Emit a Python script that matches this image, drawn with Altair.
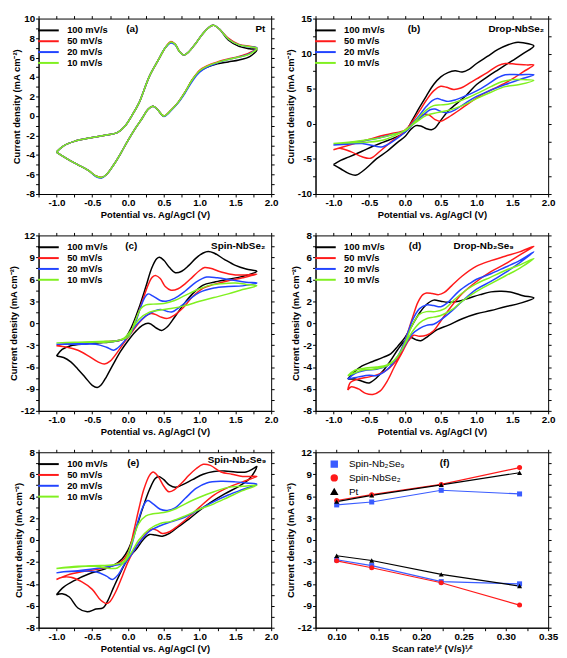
import altair as alt
import pandas as pd

FONT = "Liberation Sans"
SERIES = ["100 mV/s", "50 mV/s", "20 mV/s", "10 mV/s"]
COLORS = ["#000000", "#ff1a1a", "#2244ff", "#80f020"]
Y_TITLE = "Current density (mA cm\u207b\u00b2)"
X_TITLE = "Potential vs. Ag/AgCl (V)"

X_TICKS = [-1.25, -1.0, -0.75, -0.5, -0.25, 0.0, 0.25, 0.5, 0.75, 1.0, 1.25, 1.5, 1.75, 2.0]
YA_TICKS = [-8, -7, -6, -5, -4, -3, -2, -1, 0, 1, 2, 3, 4, 5, 6, 7, 8, 9, 10]
YB_TICKS = [-10, -7.5, -5, -2.5, 0, 2.5, 5, 7.5, 10, 12.5, 15]
YC_TICKS = [-12, -10.5, -9, -7.5, -6, -4.5, -3, -1.5, 0, 1.5, 3, 4.5, 6, 7.5, 9, 10.5, 12]
YD_TICKS = [-8, -7, -6, -5, -4, -3, -2, -1, 0, 1, 2, 3, 4, 5, 6, 7, 8]
XF_TICKS = [0.075, 0.1, 0.125, 0.15, 0.175, 0.2, 0.225, 0.25, 0.275, 0.3, 0.325, 0.35]

# ---------------- (a) Pt ----------------
A_X = [-1.0, -0.9, -0.75, -0.5, -0.3, -0.15, -0.05, 0.05, 0.15, 0.3, 0.42, 0.52, 0.6, 0.66, 0.72, 0.78, 0.85, 0.95, 1.05, 1.15, 1.2, 1.28, 1.4, 1.55, 1.7, 1.8,
       1.7, 1.55, 1.4, 1.25, 1.1, 1.0, 0.9, 0.8, 0.7, 0.6, 0.5, 0.42, 0.35, 0.28, 0.2, 0.1, 0.0, -0.1, -0.2, -0.3, -0.37, -0.45, -0.55, -0.7, -0.85, -1.0]
A_100 = [-3.7, -3.05, -2.6, -2.2, -1.95, -1.7, -1.1, 0.0, 1.3, 4.1, 5.7, 7.0, 7.6, 7.35, 6.6, 6.25, 6.6, 7.5, 8.5, 9.2, 9.3, 8.9, 7.8, 7.15, 6.9, 6.8,
         6.1, 5.75, 5.55, 5.35, 5.0, 4.6, 3.75, 2.5, 1.4, 0.6, 0.0, 0.6, 1.0, 0.7, -0.2, -1.3, -2.5, -3.8, -5.0, -6.0, -6.3, -6.15, -5.6, -5.0, -4.4, -3.7]
A_50 = [-3.7, -3.05, -2.6, -2.2, -1.95, -1.7, -1.1, 0.0, 1.3, 4.1, 5.7, 7.0, 7.65, 7.35, 6.6, 6.25, 6.6, 7.5, 8.5, 9.2, 9.3, 8.9, 8.0, 7.35, 7.15, 7.0,
        6.5, 6.1, 5.85, 5.55, 5.15, 4.7, 3.75, 2.5, 1.4, 0.6, 0.0, 0.6, 1.0, 0.7, -0.2, -1.3, -2.5, -3.8, -5.0, -6.0, -6.3, -6.15, -5.6, -5.0, -4.4, -3.7]
A_20 = [-3.7, -3.05, -2.6, -2.2, -1.95, -1.7, -1.1, 0.0, 1.3, 4.1, 5.7, 7.0, 7.5, 7.3, 6.6, 6.25, 6.6, 7.5, 8.5, 9.2, 9.3, 8.9, 7.9, 7.3, 7.1, 7.0,
        6.4, 6.05, 5.8, 5.45, 5.0, 4.5, 3.6, 2.4, 1.35, 0.55, -0.05, 0.6, 1.0, 0.7, -0.2, -1.3, -2.5, -3.8, -5.0, -6.0, -6.35, -6.2, -5.6, -5.0, -4.4, -3.7]
A_10 = [-3.7, -3.05, -2.6, -2.2, -1.95, -1.7, -1.1, 0.0, 1.3, 4.1, 5.7, 7.0, 7.6, 7.35, 6.6, 6.25, 6.6, 7.5, 8.5, 9.2, 9.3, 8.9, 7.9, 7.3, 7.1, 6.95,
        6.35, 6.05, 5.8, 5.5, 5.1, 4.65, 3.75, 2.5, 1.4, 0.6, 0.0, 0.6, 1.0, 0.7, -0.2, -1.3, -2.5, -3.8, -5.0, -6.0, -6.3, -6.15, -5.6, -5.0, -4.4, -3.7]

# ---------------- (b) Drop-NbSe2 ----------------
BX_100 = [-1.0, -0.9, -0.78, -0.6, -0.45, -0.3, -0.15, 0.0, 0.1, 0.2, 0.3, 0.4, 0.5, 0.6, 0.7, 0.8, 0.9, 1.0, 1.15, 1.3, 1.45, 1.55, 1.65, 1.8,
          1.65, 1.5, 1.3, 1.15, 1.0, 0.85, 0.7, 0.6, 0.5, 0.42, 0.37, 0.3, 0.22, 0.15, 0.08, 0.0, -0.1, -0.25, -0.4, -0.55, -0.68, -0.78, -0.9, -1.0]
BY_100 = [-5.8, -5.2, -4.7, -3.9, -3.2, -2.6, -2.0, -1.2, 0.5, 2.3, 4.0, 5.6, 6.7, 7.3, 7.55, 7.4, 7.8, 8.6, 9.6, 10.6, 11.3, 11.6, 11.55, 11.1,
          10.0, 9.0, 7.7, 6.7, 5.6, 4.0, 2.7, 1.8, 0.5, -0.6, -0.85, -0.7, -0.3, -0.25, -0.8, -1.8, -2.6, -3.9, -5.0, -6.4, -7.3, -7.1, -6.4, -5.8]
BX_50 = [-1.0, -0.8, -0.6, -0.4, -0.2, 0.0, 0.1, 0.2, 0.3, 0.4, 0.5, 0.58, 0.68, 0.78, 0.9, 1.0, 1.15, 1.3, 1.4, 1.55, 1.7, 1.8,
         1.65, 1.5, 1.3, 1.1, 0.9, 0.75, 0.6, 0.5, 0.42, 0.33, 0.25, 0.15, 0.05, -0.05, -0.2, -0.35, -0.48, -0.6, -0.75, -0.9, -1.0]
BY_50 = [-3.7, -3.1, -2.5, -1.9, -1.4, -0.9, 0.3, 1.8, 3.4, 4.7, 5.35, 5.2, 4.9, 5.1, 5.8, 6.4, 7.3, 8.3, 8.6, 8.5, 8.4, 8.4,
         7.4, 6.4, 5.3, 4.3, 3.0, 1.9, 0.9, 0.35, 0.6, 1.3, 1.3, 0.5, -0.6, -1.5, -2.6, -3.9, -4.9, -4.7, -4.0, -3.5, -3.7]
BX_20 = [-1.0, -0.7, -0.4, -0.2, 0.0, 0.1, 0.2, 0.3, 0.38, 0.45, 0.52, 0.6, 0.7, 0.85, 1.0, 1.15, 1.3, 1.4, 1.6, 1.8,
         1.6, 1.4, 1.2, 1.0, 0.85, 0.7, 0.6, 0.52, 0.42, 0.35, 0.25, 0.1, 0.0, -0.1, -0.2, -0.33, -0.45, -0.6, -0.8, -1.0]
BY_20 = [-3.0, -2.6, -2.1, -1.6, -1.0, 0.0, 1.2, 2.5, 3.3, 3.6, 3.4, 3.2, 3.4, 4.0, 4.7, 5.6, 6.6, 7.0, 7.0, 7.0,
         6.3, 5.6, 4.8, 3.9, 3.0, 2.0, 1.6, 1.7, 2.1, 2.0, 1.2, -0.2, -1.2, -2.0, -2.7, -3.3, -3.1, -2.8, -2.9, -3.0]
BX_10 = [-1.0, -0.7, -0.4, -0.2, 0.0, 0.1, 0.2, 0.3, 0.4, 0.5, 0.6, 0.8, 1.0, 1.2, 1.35, 1.5, 1.65, 1.8,
         1.6, 1.4, 1.2, 1.0, 0.8, 0.6, 0.45, 0.3, 0.15, 0.0, -0.15, -0.3, -0.5, -0.75, -1.0]
BY_10 = [-2.8, -2.5, -2.1, -1.6, -1.0, -0.1, 1.0, 2.0, 2.6, 2.7, 2.8, 3.4, 4.3, 5.3, 6.0, 6.3, 6.3, 6.2,
         5.6, 5.3, 4.5, 3.6, 2.6, 1.9, 1.6, 1.2, 0.2, -0.9, -1.7, -2.3, -2.6, -2.7, -2.8]

# ---------------- (c) Spin-NbSe2 ----------------
CX_100 = [-1.0, -0.92, -0.8, -0.6, -0.4, -0.2, -0.05, 0.05, 0.15, 0.25, 0.33, 0.4, 0.44, 0.5, 0.58, 0.66, 0.75, 0.85, 0.95, 1.05, 1.12, 1.2, 1.35, 1.5, 1.65, 1.8,
          1.6, 1.4, 1.2, 1.05, 0.9, 0.78, 0.65, 0.55, 0.47, 0.4, 0.33, 0.28, 0.2, 0.1, 0.0, -0.1, -0.2, -0.3, -0.38, -0.43, -0.5, -0.6, -0.7, -0.8, -0.9, -1.0]
CY_100 = [-4.5, -3.6, -3.1, -2.85, -2.7, -2.5, -2.1, -0.5, 2.0, 5.0, 7.5, 8.8, 9.0, 8.6, 7.6, 6.9, 7.1, 7.9, 8.9, 9.6, 9.8, 9.6, 8.7, 7.9, 7.4, 7.1,
          6.4, 6.0, 5.6, 5.2, 4.0, 2.6, 0.8, -0.5, -1.0, -0.7, -0.2, 0.0, -0.3, -1.2, -2.4, -3.8, -5.5, -7.3, -8.5, -8.8, -8.5, -7.4, -6.3, -5.3, -4.7, -4.5]
CX_50 = [-1.0, -0.85, -0.6, -0.3, -0.1, 0.0, 0.1, 0.2, 0.28, 0.34, 0.39, 0.45, 0.52, 0.6, 0.7, 0.8, 0.9, 1.0, 1.07, 1.15, 1.3, 1.5, 1.65, 1.8,
         1.6, 1.4, 1.2, 1.05, 0.9, 0.78, 0.65, 0.55, 0.47, 0.38, 0.32, 0.25, 0.15, 0.05, -0.05, -0.15, -0.25, -0.33, -0.42, -0.55, -0.7, -0.85, -1.0]
CY_50 = [-3.1, -2.8, -2.7, -2.5, -2.3, -1.8, 0.2, 3.0, 5.2, 6.3, 6.5, 6.1, 5.0, 4.5, 4.7, 5.4, 6.3, 7.2, 7.6, 7.5, 7.0, 6.6, 6.6, 6.7,
         6.2, 5.8, 5.3, 4.8, 3.6, 2.2, 1.1, 0.65, 0.8, 1.2, 1.3, 1.0, 0.0, -1.3, -2.6, -4.0, -5.2, -5.6, -5.3, -4.5, -3.7, -3.3, -3.1]
CX_20 = [-1.0, -0.7, -0.4, -0.15, 0.0, 0.1, 0.18, 0.24, 0.28, 0.35, 0.45, 0.53, 0.65, 0.8, 0.95, 1.1, 1.25, 1.45, 1.65, 1.8,
         1.6, 1.4, 1.2, 1.0, 0.85, 0.72, 0.62, 0.55, 0.47, 0.38, 0.25, 0.12, 0.0, -0.1, -0.2, -0.3, -0.45, -0.7, -1.0]
CY_20 = [-2.9, -2.7, -2.6, -2.4, -1.9, 0.0, 2.3, 3.6, 4.0, 3.7, 3.1, 3.0, 3.4, 4.4, 5.6, 6.3, 6.2, 5.9, 5.6, 5.5,
         5.1, 5.0, 4.8, 4.2, 3.2, 2.2, 1.55, 1.6, 1.85, 1.7, 1.0, -0.2, -1.8, -3.0, -3.7, -3.3, -2.9, -2.9, -2.9]
CX_10 = [-1.0, -0.7, -0.4, -0.15, 0.0, 0.1, 0.18, 0.25, 0.35, 0.5, 0.65, 0.8, 1.0, 1.15, 1.3, 1.5, 1.65, 1.8,
         1.6, 1.4, 1.2, 1.0, 0.8, 0.6, 0.45, 0.3, 0.15, 0.05, -0.05, -0.2, -0.5, -0.75, -1.0]
CY_10 = [-2.7, -2.6, -2.5, -2.4, -1.9, 0.3, 2.0, 2.5, 2.6, 2.7, 3.1, 3.8, 4.7, 5.2, 5.4, 5.5, 5.3, 5.1,
         4.6, 4.0, 3.5, 3.0, 2.4, 2.0, 1.8, 1.5, 0.5, -0.9, -2.0, -2.5, -2.6, -2.6, -2.7]

# ---------------- (d) Drop-Nb2Se9 ----------------
DX_100 = [-0.8, -0.7, -0.6, -0.45, -0.3, -0.2, -0.1, 0.0, 0.1, 0.2, 0.3, 0.4, 0.5, 0.6, 0.75, 0.9, 1.05, 1.2, 1.35, 1.5, 1.65, 1.8,
          1.6, 1.4, 1.2, 1.0, 0.8, 0.6, 0.45, 0.32, 0.22, 0.15, 0.08, 0.0, -0.1, -0.2, -0.3, -0.4, -0.5, -0.6, -0.7, -0.8]
DY_100 = [-5.1, -4.4, -3.9, -3.5, -3.1, -2.8, -2.1, -1.3, -0.2, 0.9, 1.7, 2.1, 2.0, 1.9, 2.0, 2.3, 2.6, 2.85, 2.9, 2.8, 2.5, 2.3,
          1.8, 1.5, 1.15, 0.85, 0.4, -0.2, -0.6, -1.2, -1.6, -1.5, -1.3, -1.6, -2.4, -3.4, -4.3, -5.0, -5.45, -5.3, -5.1, -5.1]
DX_50 = [-0.8, -0.76, -0.65, -0.5, -0.35, -0.22, -0.1, 0.0, 0.1, 0.18, 0.25, 0.3, 0.38, 0.47, 0.55, 0.65, 0.8, 1.0, 1.2, 1.4, 1.6, 1.8,
         1.6, 1.4, 1.2, 1.0, 0.8, 0.62, 0.5, 0.4, 0.3, 0.2, 0.12, 0.05, -0.05, -0.15, -0.25, -0.35, -0.45, -0.55, -0.65, -0.75, -0.8]
DY_50 = [-6.1, -5.4, -5.1, -4.9, -4.6, -4.1, -3.2, -1.6, 0.4, 1.9, 2.6, 2.75, 2.7, 2.6, 2.8, 3.4, 4.3, 5.2, 5.7, 6.1, 6.5, 7.0,
         6.2, 5.4, 4.7, 3.8, 2.7, 1.3, 0.2, -0.7, -1.1, -1.2, -1.1, -1.6, -2.8, -4.0, -5.3, -6.2, -6.5, -6.4, -6.0, -5.8, -6.1]
DX_20 = [-0.8, -0.7, -0.55, -0.4, -0.25, -0.12, 0.0, 0.1, 0.2, 0.3, 0.4, 0.5, 0.6, 0.75, 0.9, 1.0, 1.2, 1.4, 1.6, 1.8,
         1.6, 1.4, 1.2, 1.0, 0.8, 0.65, 0.5, 0.4, 0.3, 0.2, 0.1, 0.0, -0.1, -0.2, -0.3, -0.4, -0.5, -0.65, -0.8]
DY_20 = [-5.1, -4.6, -4.3, -4.2, -3.9, -3.2, -1.6, 0.2, 1.3, 1.66, 1.6, 1.5, 1.9, 2.9, 3.6, 4.0, 4.5, 5.1, 5.7, 6.5,
         5.5, 4.6, 3.8, 3.1, 2.0, 1.1, 0.3, -0.1, -0.2, -0.5, -1.0, -2.0, -3.0, -3.9, -4.5, -4.8, -4.75, -4.9, -5.1]
DX_10 = [-0.8, -0.7, -0.55, -0.4, -0.25, -0.12, 0.0, 0.1, 0.2, 0.3, 0.42, 0.55, 0.7, 0.85, 1.0, 1.2, 1.4, 1.6, 1.8,
         1.6, 1.4, 1.2, 1.0, 0.8, 0.65, 0.5, 0.4, 0.3, 0.2, 0.1, 0.0, -0.1, -0.2, -0.3, -0.45, -0.6, -0.8]
DY_10 = [-4.8, -4.3, -4.1, -4.0, -3.8, -3.2, -1.8, -0.2, 0.8, 1.05, 1.05, 1.3, 2.2, 3.0, 3.6, 4.2, 4.8, 5.3, 5.9,
         5.0, 4.3, 3.6, 2.9, 2.0, 1.2, 0.7, 0.55, 0.4, 0.0, -0.8, -1.9, -3.0, -3.7, -4.0, -4.2, -4.3, -4.8]

# ---------------- (e) Spin-Nb2Se9 ----------------
EX_100 = [-1.0, -0.9, -0.75, -0.55, -0.35, -0.2, -0.08, 0.0, 0.1, 0.2, 0.3, 0.38, 0.43, 0.5, 0.58, 0.66, 0.75, 0.9, 1.05, 1.2, 1.35, 1.5, 1.65, 1.75, 1.8,
          1.7, 1.55, 1.35, 1.15, 1.0, 0.85, 0.7, 0.58, 0.48, 0.38, 0.3, 0.22, 0.12, 0.0, -0.1, -0.2, -0.28, -0.35, -0.45, -0.57, -0.7, -0.82, -0.92, -1.0]
EY_100 = [-5.0, -4.3, -3.7, -3.1, -2.7, -2.3, -1.7, -0.9, 0.8, 2.8, 4.6, 5.6, 5.8, 5.5, 5.0, 4.8, 5.0, 5.5, 6.0, 6.25, 6.3, 6.2, 6.2, 6.5, 6.7,
          5.6, 4.9, 4.2, 3.4, 2.7, 1.9, 1.2, 0.6, 0.35, 0.45, 0.5, 0.1, -0.8, -1.7, -2.9, -4.3, -5.5, -6.2, -6.3, -6.55, -6.2, -5.2, -4.9, -5.0]
EX_50 = [-1.0, -0.85, -0.65, -0.45, -0.25, -0.1, 0.0, 0.08, 0.15, 0.22, 0.3, 0.35, 0.42, 0.5, 0.57, 0.65, 0.75, 0.85, 0.95, 1.05, 1.15, 1.3, 1.45, 1.6, 1.7, 1.8,
         1.6, 1.4, 1.2, 1.0, 0.85, 0.7, 0.58, 0.48, 0.4, 0.34, 0.27, 0.18, 0.08, 0.0, -0.08, -0.17, -0.25, -0.3, -0.38, -0.5, -0.65, -0.8, -0.92, -1.0]
EY_50 = [-3.6, -3.2, -2.9, -2.7, -2.4, -2.0, -1.2, 0.8, 2.8, 4.6, 5.9, 6.2, 5.8, 4.9, 4.4, 4.6, 5.2, 5.9, 6.5, 6.9, 6.8, 6.2, 6.0, 5.8, 5.8, 5.8,
         5.3, 4.8, 4.1, 3.0, 2.1, 1.3, 0.75, 0.6, 0.9, 1.0, 0.7, 0.0, -1.0, -2.0, -3.3, -4.7, -5.6, -5.8, -5.5, -4.5, -3.8, -3.4, -3.4, -3.6]
EX_20 = [-1.0, -0.9, -0.7, -0.45, -0.2, -0.05, 0.05, 0.13, 0.2, 0.25, 0.28, 0.35, 0.45, 0.55, 0.65, 0.8, 0.95, 1.1, 1.3, 1.5, 1.65, 1.8,
         1.6, 1.4, 1.2, 1.0, 0.8, 0.6, 0.45, 0.3, 0.15, 0.05, -0.05, -0.13, -0.22, -0.3, -0.45, -0.7, -0.9, -1.0]
EY_20 = [-3.0, -2.9, -2.8, -2.6, -2.35, -2.0, -0.5, 1.5, 2.9, 3.5, 3.6, 3.3, 2.8, 2.7, 2.9, 3.8, 4.7, 5.2, 5.35, 5.3, 5.2, 5.1,
         4.6, 4.1, 3.5, 2.8, 2.1, 1.65, 1.3, 0.8, -0.3, -1.3, -2.2, -3.1, -3.6, -3.3, -2.9, -2.85, -2.9, -3.0]
EX_10 = [-1.0, -0.8, -0.5, -0.2, -0.05, 0.05, 0.15, 0.25, 0.35, 0.5, 0.65, 0.8, 1.0, 1.2, 1.4, 1.6, 1.8,
         1.6, 1.4, 1.2, 1.0, 0.8, 0.6, 0.45, 0.3, 0.15, 0.05, -0.05, -0.15, -0.25, -0.45, -0.7, -1.0]
EY_10 = [-2.6, -2.5, -2.35, -2.25, -1.9, -0.3, 1.5, 2.2, 2.4, 2.5, 2.8, 3.3, 3.9, 4.4, 4.8, 4.9, 5.0,
         4.5, 3.9, 3.3, 2.8, 2.2, 1.7, 1.5, 1.0, 0.0, -1.1, -2.0, -2.55, -2.6, -2.4, -2.4, -2.6]

# ---------------- (f) peak current vs scan rate^1/2 ----------------
F_MATERIALS = ["Spin-Nb\u2082Se\u2089", "Spin-NbSe\u2082", "Pt"]
F_COLORS = ["#3a5cff", "#ff1a1a", "#000000"]
F_SHAPES = ["square", "circle", "triangle-up"]
F_RATE = [0.1, 0.1414, 0.2236, 0.3162]
F_NB2SE9_ANODIC = [4.8, 5.2, 6.8, 6.3]
F_NB2SE9_CATHODIC = [-2.7, -3.5, -5.7, -6.0]
F_NBSE2_ANODIC = [5.4, 6.2, 7.6, 9.9]
F_NBSE2_CATHODIC = [-2.85, -3.8, -5.85, -8.9]
F_PT_ANODIC = [5.25, 6.1, 7.55, 9.2]
F_PT_CATHODIC = [-2.15, -2.8, -4.7, -6.3]

PW, PH = 236, 178
LBL = 10
TTL = 9.5
LEG = 9.5


def lab_expr(step, dec):
    cond = f"abs(datum.value / {step} - round(datum.value / {step})) < 0.001"
    txt = f"(datum.value < -0.000001 ? '-' : '') + format(abs(datum.value), '.{dec}f')"
    return f"{cond} ? {txt} : ''"


def main_axis(values, step, dec, title):
    return alt.Axis(values=values, labelExpr=lab_expr(step, dec), title=title, tickSize=3,
                    labelPadding=1, titlePadding=2, labelOverlap=False, labelFlush=False, grid=False,
                    minExtent=0)


def mirror_axis(values, orient):
    return alt.Axis(values=values, orient=orient, labels=False, title=None, domain=False,
                    ticks=True, tickSize=3, grid=False, minExtent=0, maxExtent=3,
                    labelPadding=0, titlePadding=0)


def text_layer(txt, px, py, align):
    return alt.Chart(pd.DataFrame({"t": [txt]})).mark_text(
        font=FONT, fontSize=10, fontWeight="bold", align=align, baseline="middle", color="black"
    ).encode(x=alt.value(px), y=alt.value(py), text="t:N")


def cv_panel(loops, y_ticks, y_dom, y_step, tag, tag_x, name, name_x, name_y, name_align):
    rows = []
    for s, xs, ys in loops:
        assert len(xs) == len(ys), (tag, s, len(xs), len(ys))
        for i, (xv, yv) in enumerate(zip(xs, ys)):
            rows.append({"series": s, "idx": i, "x": xv, "y": yv})
    df = pd.DataFrame(rows)
    xsc = alt.Scale(domain=[-1.25, 2.0], nice=False, zero=False)
    ysc = alt.Scale(domain=y_dom, nice=False, zero=False)
    lines = alt.Chart(df).mark_line(strokeWidth=1.5, interpolate="catmull-rom").encode(
        x=alt.X("x:Q", scale=xsc, axis=main_axis(X_TICKS, 0.5, 1, X_TITLE)),
        y=alt.Y("y:Q", scale=ysc, axis=main_axis(y_ticks, y_step, 0, Y_TITLE)),
        color=alt.Color("series:N", scale=alt.Scale(domain=SERIES, range=COLORS),
                        legend=alt.Legend(title=None, orient="none", legendX=4, legendY=6,
                                          symbolType="M-2.1,0H2.1", symbolSize=100, symbolStrokeWidth=2,
                                          labelFont=FONT, labelFontSize=LEG, labelFontWeight="bold",
                                          rowPadding=0, padding=0, labelOffset=13)),
        order=alt.Order("idx:Q"),
    )
    mirror = alt.Chart(df).mark_point(opacity=0).encode(
        x=alt.X("x:Q", scale=xsc, axis=mirror_axis(X_TICKS, "top")),
        y=alt.Y("y:Q", scale=ysc, axis=mirror_axis(y_ticks, "right")),
    )
    return alt.layer(lines, mirror, text_layer(tag, tag_x, 11, "center"),
                     text_layer(name, name_x, name_y, name_align)).resolve_axis(
        x="independent", y="independent").properties(width=PW, height=PH)


pa = cv_panel([(SERIES[0], A_X, A_100), (SERIES[1], A_X, A_50), (SERIES[2], A_X, A_20), (SERIES[3], A_X, A_10)],
              YA_TICKS, [-8, 10], 2, "(a)", 95, "Pt", 230, 11, "right")
pb = cv_panel([(SERIES[0], BX_100, BY_100), (SERIES[1], BX_50, BY_50), (SERIES[2], BX_20, BY_20), (SERIES[3], BX_10, BY_10)],
              YB_TICKS, [-10, 15], 5, "(b)", 100, "Drop-NbSe\u2082", 232, 11, "right")
pc = cv_panel([(SERIES[0], CX_100, CY_100), (SERIES[1], CX_50, CY_50), (SERIES[2], CX_20, CY_20), (SERIES[3], CX_10, CY_10)],
              YC_TICKS, [-12, 12], 3, "(c)", 94, "Spin-NbSe\u2082", 230, 11, "right")
pd_ = cv_panel([(SERIES[0], DX_100, DY_100), (SERIES[1], DX_50, DY_50), (SERIES[2], DX_20, DY_20), (SERIES[3], DX_10, DY_10)],
               YD_TICKS, [-8, 8], 2, "(d)", 101, "Drop-Nb\u2082Se\u2089", 140, 11, "left")
pe = cv_panel([(SERIES[0], EX_100, EY_100), (SERIES[1], EX_50, EY_50), (SERIES[2], EX_20, EY_20), (SERIES[3], EX_10, EY_10)],
              YD_TICKS, [-8, 8], 2, "(e)", 96, "Spin-Nb\u2082Se\u2089", 231, 8, "right")

# panel f
frows = []
for m, an, ca in [(F_MATERIALS[0], F_NB2SE9_ANODIC, F_NB2SE9_CATHODIC),
                  (F_MATERIALS[1], F_NBSE2_ANODIC, F_NBSE2_CATHODIC),
                  (F_MATERIALS[2], F_PT_ANODIC, F_PT_CATHODIC)]:
    for r, v in zip(F_RATE, an):
        frows.append({"material": m, "branch": "anodic", "rate": r, "j": v})
    for r, v in zip(F_RATE, ca):
        frows.append({"material": m, "branch": "cathodic", "rate": r, "j": v})
fdf = pd.DataFrame(frows)
fx = alt.Scale(domain=[0.075, 0.35], nice=False, zero=False)
fy = alt.Scale(domain=[-12, 12], nice=False, zero=False)
fcolor = alt.Scale(domain=F_MATERIALS, range=F_COLORS)
flegend = alt.Legend(title=None, orient="none", legendX=14, legendY=7,
                     labelFont=FONT, labelFontSize=10, labelFontWeight="normal",
                     symbolSize=36, rowPadding=2, padding=0, labelOffset=10)
flines = alt.Chart(fdf).mark_line(strokeWidth=1.2).encode(
    x=alt.X("rate:Q", scale=fx, axis=main_axis(XF_TICKS, 0.05, 2, "Scan rate\u00b9\u2044\u00b2 (V/s)\u00b9\u2044\u00b2")),
    y=alt.Y("j:Q", scale=fy, axis=main_axis(YC_TICKS, 3, 0, Y_TITLE)),
    color=alt.Color("material:N", scale=fcolor, legend=flegend),
    detail="branch:N",
)
fmirror = alt.Chart(fdf).mark_point(opacity=0).encode(
    x=alt.X("rate:Q", scale=fx, axis=mirror_axis(XF_TICKS, "top")),
    y=alt.Y("j:Q", scale=fy, axis=mirror_axis(YC_TICKS, "right")),
)
fpoints = alt.Chart(fdf).mark_point(filled=True, size=26, opacity=1).encode(
    x=alt.X("rate:Q", scale=fx, axis=None),
    y=alt.Y("j:Q", scale=fy, axis=None),
    color=alt.Color("material:N", scale=fcolor, legend=flegend),
    shape=alt.Shape("material:N", scale=alt.Scale(domain=F_MATERIALS, range=F_SHAPES), legend=flegend),
)
pf = alt.layer(flines, fmirror, fpoints, text_layer("(f)", 131, 11, "center")).resolve_axis(
    x="independent", y="independent").properties(width=PW, height=PH)

chart = alt.concat(pa, pb, pc, pd_, pe, pf, columns=2, spacing={"row": 10, "column": 6}).resolve_scale(
    color="independent", shape="independent").resolve_legend(color="independent", shape="independent")

chart = chart.properties(padding={"left": 0, "top": 0, "right": 0, "bottom": 0}, background="white").configure_view(
    stroke="black", strokeWidth=1
).configure_axis(
    labelFont=FONT, labelFontSize=LBL, labelFontWeight="bold", labelColor="black",
    titleFont=FONT, titleFontSize=TTL, titleFontWeight="bold", titleColor="black",
    domainColor="black", tickColor="black", domainWidth=1, tickWidth=1,
)

chart.save("out.html", embed_options={"renderer": "svg", "actions": False})
